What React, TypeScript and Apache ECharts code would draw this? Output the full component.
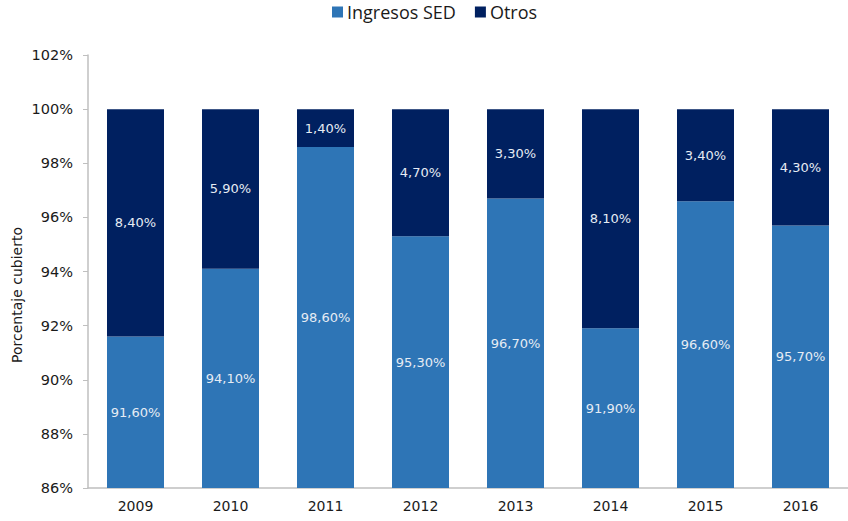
import React, { useEffect, useRef } from "react";
import * as echarts from "echarts";

const years = ["2009", "2010", "2011", "2012", "2013", "2014", "2015", "2016"];
const ingresosSED = [91.6, 94.1, 98.6, 95.3, 96.7, 91.9, 96.6, 95.7];
const otros = [8.4, 5.9, 1.4, 4.7, 3.3, 8.1, 3.4, 4.3];
const yTicks = { min: 86, max: 102, interval: 2 };

const fmt = (v: number) => v.toFixed(2).replace(".", ",") + "%";
const FONT = "'DejaVu Sans', Verdana, sans-serif";

export default function App() {
  const ref = useRef<HTMLDivElement>(null);
  useEffect(() => {
    if (!ref.current) return;
    const chart = echarts.init(ref.current, undefined, { renderer: "svg" });
    const labelStyle = {
      show: true,
      position: "inside" as const,
      color: "#e6ecf4",
      fontFamily: FONT,
      fontSize: 13,
      formatter: (p: any) => fmt(p.value),
    };
    chart.setOption({
      animation: false,
      backgroundColor: "#ffffff",
      legend: {
        top: -2,
        left: 327,
        itemWidth: 11,
        itemHeight: 11,
        itemGap: 19,
        icon: "rect",
        textStyle: { fontFamily: "'Open Sans'", fontSize: 18, color: "#1a1a1a", padding: [0, 0, 0, -1] },
        data: ["Ingresos SED", "Otros"],
      },
      grid: { left: 88, right: 0, top: 55, bottom: 33, containLabel: false },
      xAxis: {
        type: "category",
        data: years,
        axisLine: { show: true, lineStyle: { color: "#BFBFBF", width: 1.5 } },
        axisTick: { show: false },
        axisLabel: { fontFamily: FONT, fontSize: 14, color: "#1a1a1a", margin: 11 },
      },
      yAxis: {
        type: "value",
        min: yTicks.min,
        max: yTicks.max,
        interval: yTicks.interval,
        axisLine: { show: true, lineStyle: { color: "#BFBFBF", width: 1.5 } },
        axisTick: { show: true, length: 5, lineStyle: { color: "#BFBFBF" } },
        splitLine: { show: false },
        axisLabel: {
          fontFamily: FONT,
          fontSize: 14.5,
          color: "#1a1a1a",
          margin: 15,
          formatter: (v: number) => `${v}%`,
        },
      },
      graphic: [
        {
          type: "text",
          x: 17,
          y: 295,
          rotation: Math.PI / 2,
          style: {
            text: "Porcentaje cubierto",
            fontFamily: FONT,
            fontSize: 14,
            fill: "#1a1a1a",
            align: "center",
            verticalAlign: "middle",
          },
        },
      ],
      series: [
        {
          name: "Ingresos SED",
          type: "bar",
          stack: "total",
          barWidth: "60%",
          clip: true,
          data: ingresosSED,
          itemStyle: { color: "#2E75B6" },
          label: labelStyle,
        },
        {
          name: "Otros",
          type: "bar",
          stack: "total",
          barWidth: "60%",
          clip: true,
          data: otros,
          itemStyle: { color: "#002060" },
          label: labelStyle,
        },
      ],
    });
    return () => chart.dispose();
  }, []);
  return (
    <div
      ref={ref}
      style={{ position: "fixed", left: 0, top: 0, width: 848, height: 521 }}
    />
  );
}
